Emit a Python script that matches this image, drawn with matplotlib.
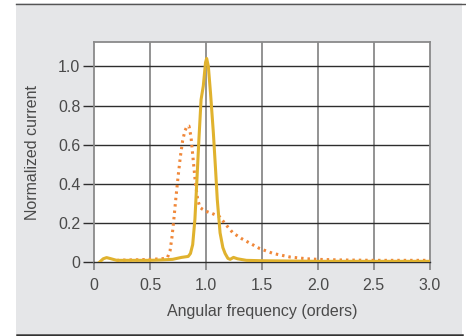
import numpy as np
import matplotlib.pyplot as plt
from matplotlib.patches import Rectangle
from matplotlib.lines import Line2D

plt.rcParams['font.family'] = ['Liberation Sans', 'DejaVu Sans']

# solid curve (gold)
solid_x = [0.045, 0.08, 0.11, 0.15, 0.2, 0.3, 0.4, 0.5, 0.6, 0.7, 0.78, 0.84, 0.86,
           0.88, 0.9, 0.916, 0.935, 0.955, 0.975, 0.995, 1.005, 1.02, 1.04, 1.065,
           1.085, 1.10, 1.125, 1.15, 1.17, 1.195, 1.215, 1.245, 1.28, 1.36, 1.5,
           2.0, 2.5, 3.0]
solid_y = [0.0, 0.018, 0.024, 0.018, 0.01, 0.01, 0.01, 0.01, 0.012, 0.015, 0.025, 0.03, 0.045,
           0.09, 0.22, 0.40, 0.62, 0.83, 0.9, 1.02, 1.04, 1.0, 0.86, 0.66,
           0.47, 0.32, 0.15, 0.075, 0.045, 0.02, 0.015, 0.025, 0.018, 0.01, 0.008,
           0.005, 0.005, 0.005]

# dotted curve (orange)
dot_x = [0.2, 0.3, 0.4, 0.5, 0.6, 0.632, 0.655, 0.678, 0.695, 0.71, 0.73, 0.75, 0.77,
         0.79, 0.81, 0.83, 0.847, 0.865, 0.885, 0.905, 0.925, 0.945, 0.97, 1.0,
         1.05, 1.12, 1.18, 1.24, 1.32, 1.4, 1.48, 1.6, 1.75, 1.9, 2.0, 2.2, 2.5, 3.0]
dot_y = [0.01, 0.012, 0.013, 0.015, 0.018, 0.02, 0.025, 0.06, 0.13, 0.21, 0.33, 0.44, 0.54,
         0.62, 0.67, 0.695, 0.695, 0.64, 0.52, 0.40, 0.32, 0.28, 0.27, 0.26,
         0.25, 0.233, 0.19, 0.15, 0.12, 0.095, 0.07, 0.045, 0.027, 0.018, 0.015, 0.012, 0.01, 0.01]

xticks = [0, 0.5, 1.0, 1.5, 2.0, 2.5, 3.0]
xtick_labels = ['0', '0.5', '1.0', '1.5', '2.0', '2.5', '3.0']
yticks = [0, 0.2, 0.4, 0.6, 0.8, 1.0]
ytick_labels = ['0', '0.2', '0.4', '0.6', '0.8', '1.0']

W, H = 466, 336
fig = plt.figure(figsize=(W / 100, H / 100), dpi=100)
fig.patch.set_facecolor('white')

# gray panel with top/bottom rules
fig.patches.append(Rectangle((16 / W, 1 - 334 / H), (462 - 16) / W, (334 - 3) / H,
                             transform=fig.transFigure, facecolor='#e5e6e8',
                             edgecolor='none', zorder=-5))
fig.lines.append(Line2D([16 / W, 1], [1 - 3.5 / H] * 2, transform=fig.transFigure,
                        color='#555555', lw=1.0))
fig.lines.append(Line2D([17 / W, 462 / W], [1 - 334.5 / H] * 2, transform=fig.transFigure,
                        color='#333333', lw=1.8))

ax = fig.add_axes([94.3 / W, 1 - 262.3 / H, (429.7 - 94.3) / W, (262.3 - 42) / H])
ax.set_facecolor('white')
ax.set_xlim(0, 3.0)
ax.set_ylim(0, 1.124)

for x in xticks[1:-1]:
    ax.axvline(x, color='#8a8a8a', lw=1.3, zorder=1)
for y in yticks[1:]:
    ax.axhline(y, color='#2e2e2e', lw=1.0, zorder=1)

ax.plot(dot_x, dot_y, color='#f0883a', lw=2.2, linestyle=(0, (0.8, 1.3)), zorder=3)
ax.plot(solid_x, solid_y, color='#e0b22e', lw=2.2, zorder=4, solid_joinstyle='round')

for s in ['left', 'right', 'top']:
    ax.spines[s].set_color('#8a8a8a')
    ax.spines[s].set_linewidth(1.3)
ax.spines['bottom'].set_color('#2e2e2e')
ax.spines['bottom'].set_linewidth(1.0)

ax.set_xticks(xticks)
ax.set_xticklabels(xtick_labels)
ax.set_yticks(yticks)
ax.set_yticklabels(ytick_labels)
ax.tick_params(axis='y', length=8, width=1.0, color='#2e2e2e', labelcolor='#4a4a4a',
               labelsize=11.5, pad=2)
ax.tick_params(axis='x', length=6, width=1.3, color='#8a8a8a', labelcolor='#4a4a4a',
               labelsize=11.5, pad=5)
ax.set_xlabel('Angular frequency (orders)', color='#4a4a4a', fontsize=11.5, labelpad=8)
ax.set_ylabel('Normalized current', color='#4a4a4a', fontsize=11.5, labelpad=13)

fig.savefig('out.png', dpi=100)
